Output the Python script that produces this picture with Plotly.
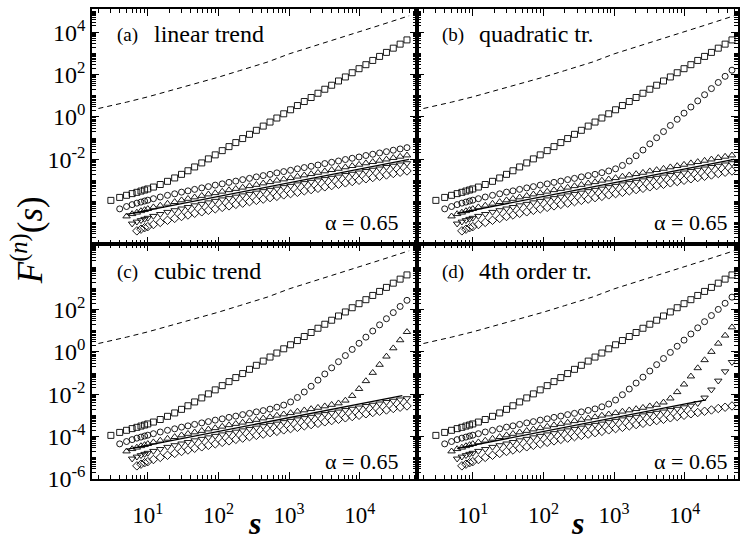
import plotly.graph_objects as go
from plotly.subplots import make_subplots

# box sizes s (shared by every DFA order; order n starts at s = n + 2)
S = [3, 4, 5, 6, 7, 8, 9, 10, 12, 15, 19, 24, 30, 37, 46, 58, 72, 90, 113, 141,
     176, 220, 275, 344, 430, 537, 671, 839, 1049, 1311, 1639, 2049, 2561, 3201,
     4001, 5002, 6252, 7815, 9769, 12211, 15264, 19080, 23850, 29813, 37266, 46582]

# log10 F^(n)(s)
log_f1 = [-3.94, -3.80, -3.70, -3.62, -3.56, -3.50, -3.45, -3.40, -3.31, -3.19,
          -3.04, -2.88, -2.71, -2.54, -2.36, -2.17, -1.98, -1.79, -1.59, -1.40,
          -1.21, -1.02, -0.82, -0.63, -0.43, -0.24, -0.05, 0.15, 0.34, 0.54,
          0.73, 0.92, 1.12, 1.31, 1.50, 1.70, 1.89, 2.09, 2.28, 2.47,
          2.67, 2.86, 3.05, 3.25, 3.44, 3.64]

log_f2_noise = [-4.34, -4.23, -4.14, -4.07, -4.02, -3.97, -3.93, -3.86, -3.78,
                -3.70, -3.63, -3.55, -3.49, -3.42, -3.35, -3.29, -3.22, -3.16, -3.09,
                -3.03, -2.96, -2.90, -2.83, -2.77, -2.71, -2.64, -2.58, -2.52, -2.45,
                -2.39, -2.33, -2.27, -2.20, -2.14, -2.08, -2.01, -1.95, -1.89, -1.82,
                -1.76, -1.70, -1.64, -1.57, -1.51, -1.45]

log_f3_noise = [-4.69, -4.58, -4.51, -4.44, -4.39, -4.34, -4.26, -4.18,
                -4.09, -4.01, -3.93, -3.86, -3.79, -3.72, -3.65, -3.59, -3.52, -3.45,
                -3.39, -3.33, -3.26, -3.20, -3.13, -3.07, -3.00, -2.94, -2.88, -2.81,
                -2.75, -2.69, -2.63, -2.56, -2.50, -2.44, -2.37, -2.31, -2.25, -2.18,
                -2.12, -2.06, -2.00, -1.93, -1.87, -1.81]

log_f4_noise = [-5.04, -4.95, -4.88, -4.82, -4.77, -4.68, -4.59,
                -4.49, -4.41, -4.33, -4.26, -4.18, -4.11, -4.04, -3.97, -3.90, -3.84,
                -3.77, -3.71, -3.64, -3.58, -3.51, -3.45, -3.39, -3.32, -3.26, -3.19,
                -3.13, -3.07, -3.00, -2.94, -2.88, -2.82, -2.75, -2.69, -2.63, -2.56,
                -2.50, -2.44, -2.37, -2.31, -2.25, -2.19]

log_f5_noise = [-5.38, -5.30, -5.23, -5.18, -5.08, -4.98,
                -4.88, -4.79, -4.70, -4.63, -4.55, -4.48, -4.41, -4.34, -4.27, -4.20,
                -4.13, -4.07, -4.00, -3.94, -3.88, -3.81, -3.75, -3.68, -3.62, -3.56,
                -3.49, -3.43, -3.37, -3.30, -3.24, -3.18, -3.11, -3.05, -2.99, -2.92,
                -2.86, -2.80, -2.74, -2.67, -2.61, -2.55]

log_f2_quad = [-4.34, -4.23, -4.14, -4.07, -4.02, -3.97, -3.93, -3.86, -3.78,
               -3.70, -3.63, -3.55, -3.49, -3.42, -3.35, -3.29, -3.22, -3.16, -3.09,
               -3.03, -2.96, -2.90, -2.83, -2.77, -2.71, -2.63, -2.55, -2.45, -2.29,
               -2.08, -1.83, -1.56, -1.27, -0.98, -0.69, -0.40, -0.11, 0.18, 0.47,
               0.76, 1.05, 1.34, 1.63, 1.92, 2.21]

log_f2_cubic = [-4.34, -4.23, -4.14, -4.07, -4.02, -3.97, -3.93, -3.86, -3.78,
                -3.70, -3.63, -3.55, -3.49, -3.42, -3.35, -3.29, -3.22, -3.16, -3.09,
                -3.03, -2.96, -2.90, -2.83, -2.77, -2.70, -2.61, -2.51, -2.36, -2.15,
                -1.89, -1.62, -1.33, -1.04, -0.75, -0.46, -0.17, 0.12, 0.41, 0.70,
                0.99, 1.28, 1.57, 1.86, 2.15, 2.44]

log_f3_cubic = [-4.69, -4.58, -4.51, -4.44, -4.39, -4.34, -4.26, -4.18,
                -4.09, -4.01, -3.93, -3.86, -3.79, -3.72, -3.65, -3.59, -3.52, -3.45,
                -3.39, -3.33, -3.26, -3.20, -3.13, -3.07, -3.00, -2.94, -2.88, -2.81,
                -2.75, -2.69, -2.63, -2.56, -2.49, -2.42, -2.29, -2.07, -1.74, -1.37,
                -0.98, -0.60, -0.21, 0.18, 0.56, 0.95]

log_f2_quartic = [-4.34, -4.23, -4.14, -4.07, -4.02, -3.97, -3.93, -3.86, -3.78,
                  -3.70, -3.63, -3.55, -3.49, -3.42, -3.35, -3.29, -3.22, -3.16, -3.09,
                  -3.03, -2.96, -2.90, -2.83, -2.76, -2.69, -2.59, -2.46, -2.27, -2.02,
                  -1.75, -1.47, -1.19, -0.90, -0.60, -0.31, -0.02, 0.27, 0.56, 0.85,
                  1.14, 1.43, 1.72, 2.01, 2.30, 2.59]

log_f3_quartic = [-4.69, -4.58, -4.51, -4.44, -4.39, -4.34, -4.26, -4.18,
                  -4.09, -4.01, -3.93, -3.86, -3.79, -3.72, -3.65, -3.59, -3.52, -3.45,
                  -3.39, -3.33, -3.26, -3.20, -3.13, -3.07, -3.00, -2.94, -2.88, -2.81,
                  -2.75, -2.69, -2.63, -2.56, -2.49, -2.38, -2.19, -1.89, -1.53, -1.15,
                  -0.76, -0.38, 0.01, 0.40, 0.78, 1.17]

log_f4_quartic = [-5.04, -4.95, -4.88, -4.82, -4.77, -4.68, -4.59,
                  -4.49, -4.41, -4.33, -4.26, -4.18, -4.11, -4.04, -3.97, -3.90, -3.84,
                  -3.77, -3.71, -3.64, -3.58, -3.51, -3.45, -3.39, -3.32, -3.26, -3.19,
                  -3.13, -3.07, -3.00, -2.94, -2.88, -2.82, -2.75, -2.69, -2.62, -2.54,
                  -2.42, -2.16, -1.78, -1.36, -0.92, -0.48]

# fluctuation function without detrending (dashed curve)
S_F0 = [2, 3, 5, 10, 20, 50, 100, 200, 500, 1000, 2000, 5000, 10000, 20000, 50000]
log_f0 = [0.40, 0.52, 0.70, 0.95, 1.22, 1.58, 1.88, 2.19, 2.60, 2.98, 3.29, 3.70,
          4.03, 4.35, 4.78]

# reference power law F ~ s^alpha
ALPHA = 0.65
REF_S, REF_LOG_F = 50000, -2.0

PANELS = [
    dict(row=1, col=1, tag="(a)", name="linear trend", line_s=(5, 50000),
         series=[log_f1, log_f2_noise, log_f3_noise, log_f4_noise, log_f5_noise]),
    dict(row=1, col=2, tag="(b)", name="quadratic tr.", line_s=(6, 50000),
         series=[log_f1, log_f2_quad, log_f3_noise, log_f4_noise, log_f5_noise]),
    dict(row=2, col=1, tag="(c)", name="cubic trend", line_s=(5, 40000),
         series=[log_f1, log_f2_cubic, log_f3_cubic, log_f4_noise, log_f5_noise]),
    dict(row=2, col=2, tag="(d)", name="4th order tr.", line_s=(6, 20000),
         series=[log_f1, log_f2_quartic, log_f3_quartic, log_f4_quartic, log_f5_noise]),
]

SYMBOLS = ["square-open", "circle-open", "triangle-up-open", "triangle-down-open",
           "diamond-open"]
SIZES = [6, 6, 6.5, 6.5, 6.5]

SERIF = "Liberation Serif, Times New Roman, serif"

# page geometry (pixels)
W, H = 740, 541
ML, MR, MT, MB = 92, 0, 9, 62
PW, PH = W - ML - MR, H - MT - MB
X_SPLIT = 418
XDIV = (X_SPLIT - ML) / PW
PX_PER_DEC = (X_SPLIT - ML) / 4.6
X_RANGE_L = [0.21, 4.81]
X_RANGE_R = [0.21, 0.21 + (W - MR - X_SPLIT) / PX_PER_DEC]
Y_RANGE = [-6.0, 5.1]


def px_x(p):
    return (p - ML) / PW


def px_y(p):
    return (H - MB - p) / PH


fig = make_subplots(rows=2, cols=2, horizontal_spacing=0, vertical_spacing=0)

for p in PANELS:
    r, c = p["row"], p["col"]
    fig.add_trace(go.Scatter(
        x=S_F0, y=[10 ** v for v in log_f0], mode="lines",
        line=dict(color="black", width=1, dash="5px,4px"),
        showlegend=False, hoverinfo="skip"), row=r, col=c)
    for n, vals in enumerate(p["series"], start=1):
        xs = S[n - 1:]
        assert len(xs) == len(vals)
        fig.add_trace(go.Scatter(
            x=xs, y=[10 ** v for v in vals], mode="markers",
            marker=dict(symbol=SYMBOLS[n - 1], size=SIZES[n - 1], color="black",
                        line=dict(color="black", width=0.9)),
            showlegend=False, cliponaxis=False), row=r, col=c)
    s0, s1 = p["line_s"]
    ref_f = 10 ** REF_LOG_F
    fig.add_trace(go.Scatter(
        x=[s0, s1], y=[ref_f * (s0 / REF_S) ** ALPHA, ref_f * (s1 / REF_S) ** ALPHA],
        mode="lines", line=dict(color="black", width=1.3),
        showlegend=False), row=r, col=c)

# axes: labelled decades get long ticks, every other decade and digit a short one
x_major = [10 ** k for k in range(1, 5)]
x_text = [f"10<sup>{k}</sup>" for k in range(1, 5)]
x_minor = [d * 10 ** k for k in range(0, 5) for d in range(2, 10)]

axis_common = dict(type="log", showline=True, linecolor="black", linewidth=1.5,
                   mirror="ticks", ticks="inside", ticklen=7, tickwidth=1.2,
                   tickcolor="black", showgrid=False, zeroline=False)

for p in PANELS:
    r, c = p["row"], p["col"]
    top = r == 1
    xdom = [0, XDIV] if c == 1 else [XDIV, 1]
    ydom = [0.5, 1] if top else [0, 0.5]
    y_exp = [4, 2, 0, -2] if top else [2, 0, -2, -4, -6]
    y_major = [10 ** k for k in y_exp]
    y_text = [f"10<sup>{k}</sup>" for k in y_exp]
    y_minor = [d * 10 ** k for k in range(-6, 6) for d in range(1, 10)
               if not (d == 1 and k in y_exp)]
    fig.update_xaxes(axis_common, domain=xdom,
                     range=X_RANGE_L if c == 1 else X_RANGE_R,
                     tickmode="array", tickvals=x_major, ticktext=x_text,
                     showticklabels=not top, ticklabelstandoff=15,
                     tickfont=dict(family=SERIF, size=23, color="black"),
                     minor=dict(tickmode="array", tickvals=x_minor, ticks="inside",
                                ticklen=4, tickwidth=1, tickcolor="black"),
                     row=r, col=c)
    fig.update_yaxes(axis_common, domain=ydom, range=Y_RANGE,
                     tickmode="array", tickvals=y_major, ticktext=y_text,
                     showticklabels=(c == 1),
                     tickfont=dict(family=SERIF, size=24, color="black"),
                     minor=dict(tickmode="array", tickvals=y_minor, ticks="inside",
                                ticklen=4, tickwidth=1, tickcolor="black"),
                     row=r, col=c)

# text
ann = []
for p in PANELS:
    left = ML + (0 if p["col"] == 1 else X_SPLIT - ML)
    cy = 35 if p["row"] == 1 else 272
    ann.append(dict(x=px_x(left + 23), y=px_y(cy), xref="paper", yref="paper",
                    text=p["tag"], showarrow=False, xanchor="left", yanchor="middle",
                    font=dict(family=SERIF, size=19, color="black")))
    ann.append(dict(x=px_x(left + 60), y=px_y(cy - 1), xref="paper", yref="paper",
                    text=p["name"], showarrow=False, xanchor="left", yanchor="middle",
                    font=dict(family=SERIF, size=24, color="black")))
    ax = 401 if p["col"] == 1 else 731
    ay = 222 if p["row"] == 1 else 461
    ann.append(dict(x=px_x(ax), y=px_y(ay), xref="paper", yref="paper",
                    text=f"α = {ALPHA}", showarrow=False, xanchor="right",
                    yanchor="middle", font=dict(family=SERIF, size=22, color="black")))

for cx in (255, 579):
    ann.append(dict(x=px_x(cx), y=px_y(523), xref="paper", yref="paper",
                    text="<b><i>s</i></b>", showarrow=False, xanchor="center",
                    yanchor="middle", borderpad=0,
                    font=dict(family=SERIF, size=32, color="black")))

ann.append(dict(x=px_x(27), y=px_y(240), xref="paper", yref="paper",
                text="<i>F</i><sup>(<i>n</i>)</sup>(<i>s</i>)", textangle=-90,
                showarrow=False, xanchor="center", yanchor="middle",
                font=dict(family=SERIF, size=35, color="black")))

fig.update_layout(width=W, height=H, margin=dict(l=ML, r=MR, t=MT, b=MB),
                  paper_bgcolor="white", plot_bgcolor="white",
                  annotations=ann, showlegend=False)

fig.write_html("out.html")
